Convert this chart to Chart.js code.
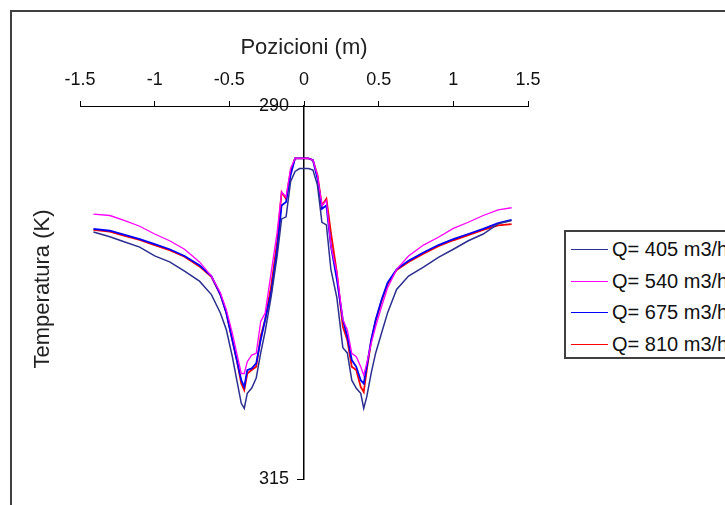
<!DOCTYPE html>
<html>
<head>
<meta charset="utf-8">
<script src="https://cdn.jsdelivr.net/npm/chart.js@4"></script>
<style>
  body { margin: 0; width: 725px; height: 505px; overflow: hidden; background: #fff; font-family: "Liberation Sans", Arial, sans-serif; }
  #frame { position: absolute; left: 10px; top: 10px; width: 800px; height: 600px; border: 2px solid #404040; }
  #wrap { position: absolute; left: 0; top: 0; width: 725px; height: 505px; }
  #legend { position: absolute; left: 564px; top: 230px; width: 220px; height: 125px; border: 2px solid #404040; background: #fff; }
  .item { position: absolute; left: 0; height: 24px; line-height: 24px; font-size: 20px; color: #111; white-space: nowrap; }
  .item span.swatch { position: absolute; left: 5px; top: 12px; width: 37px; height: 0; border-top: 1.5px solid; }
  .item span.lbl { position: absolute; left: 46px; top: 0; }
</style>
</head>
<body>
<div id="frame"></div>
<div id="wrap"><canvas id="chart" width="725" height="505"></canvas></div>
<div id="legend"></div>
<script>
// -------- DATA --------
const pozicioni = [-1.41, -1.3, -1.2, -1.1, -1.0, -0.9, -0.8, -0.7, -0.62, -0.56, -0.52, -0.48, -0.45,
    -0.42, -0.40, -0.38, -0.35, -0.32, -0.29, -0.26, -0.22, -0.18, -0.15, -0.12, -0.09, -0.06, -0.03,
    0, 0.03, 0.06, 0.09, 0.12, 0.15, 0.18, 0.22, 0.26, 0.29, 0.32, 0.35, 0.38, 0.40, 0.42, 0.45,
    0.48, 0.52, 0.56, 0.62, 0.7, 0.8, 0.9, 1.0, 1.1, 1.2, 1.3, 1.39];

const q405 = [298.45, 298.76, 299.12, 299.46, 300.05, 300.45, 301.06, 301.74, 302.64, 303.87, 305.0, 306.8, 308.38,
    309.93, 310.27, 309.26, 308.9, 308.24, 306.55, 305.1, 302.77, 300.07, 297.57, 297.43, 295.07, 294.39, 294.19,
    294.19, 294.19, 294.3, 295.3, 297.8, 297.97, 300.95, 302.84, 306.2, 306.55, 308.38, 308.92, 309.26, 310.27, 309.5, 307.9,
    306.55, 305.2, 303.85, 302.3, 301.4, 300.8, 300.14, 299.6, 299.03, 298.58, 297.9, 297.68];

const q540 = [297.25, 297.34, 297.68, 298.06, 298.58, 299.03, 299.6, 300.45, 301.4, 302.52, 303.65, 305.22, 306.58,
    307.93, 307.93, 307.14, 306.69, 306.58, 304.44, 303.87, 301.17, 298.47, 295.77, 296.1, 294.19, 293.51, 293.51,
    293.51, 293.51, 293.63, 294.64, 296.67, 296.33, 299.37, 301.17, 304.32, 305.0, 306.58, 306.8, 307.48, 308.04, 307.25, 305.9,
    304.78, 303.43, 302.18, 300.95, 300.05, 299.32, 298.8, 298.2, 297.79, 297.34, 296.96, 296.82];

const q675 = [298.24, 298.36, 298.63, 298.92, 299.26, 299.6, 300.05, 300.68, 301.4, 302.64, 303.87, 305.68, 307.03,
    308.38, 308.83, 307.7, 307.59, 307.25, 305.68, 304.32, 302.52, 299.6, 296.67, 296.44, 294.64, 293.51, 293.51,
    293.51, 293.51, 293.63, 294.86, 296.89, 296.67, 299.37, 301.62, 304.32, 305.45, 307.03, 307.48, 308.38, 308.6, 307.48, 305.68,
    304.32, 302.97, 301.84, 300.95, 300.38, 299.82, 299.32, 298.92, 298.58, 298.24, 297.85, 297.64];

const q810 = [298.3, 298.42, 298.7, 298.98, 299.32, 299.66, 300.1, 300.75, 301.45, 302.64, 303.87, 305.68, 307.03,
    308.6, 309.05, 307.93, 307.7, 307.48, 305.45, 304.32, 302.07, 299.14, 295.77, 296.22, 294.41, 293.51, 293.51,
    293.51, 293.51, 293.63, 294.64, 296.67, 296.22, 298.47, 301.17, 304.78, 305.68, 307.48, 307.7, 308.83, 309.17, 307.7, 305.75,
    304.4, 303.05, 301.92, 301.0, 300.45, 299.9, 299.4, 299.0, 298.65, 298.3, 298.0, 297.92];

const seriesLabels = ['Q= 405 m3/h', 'Q= 540 m3/h', 'Q= 675 m3/h', 'Q= 810 m3/h'];
const xTicks = [-1.5, -1, -0.5, 0, 0.5, 1, 1.5];
const yTicks = [290, 315];
// -------- END DATA --------

const colors = ['#2b2f8f', '#ff00ff', '#0000ff', '#ff0000'];
const widths = [1.5, 1.3, 1.8, 1.8];
const FONT = '"Liberation Sans", Arial, sans-serif';

function toPoints(values) {
    return values.map((t, i) => ({ x: pozicioni[i], y: t }));
}

const datasets = [q405, q540, q675, q810].map((vals, i) => ({
    label: seriesLabels[i],
    data: toPoints(vals),
    borderColor: colors[i],
    backgroundColor: colors[i],
    borderWidth: widths[i],
    showLine: true,
    pointRadius: 0,
    tension: 0,
    fill: false
}));

// y title far left + y tick labels left of the centered axis
const yLabelsPlugin = {
    id: 'yLabels',
    afterDraw(chart) {
        const ctx = chart.ctx;
        const xs = chart.scales.x, ys = chart.scales.y;
        const axisX = xs.getPixelForValue(0);

        ctx.save();
        ctx.font = '18px ' + FONT;
        ctx.fillStyle = '#111';
        ctx.textAlign = 'right';
        ctx.textBaseline = 'middle';
        yTicks.forEach(v => ctx.fillText(String(v), axisX - 15, ys.getPixelForValue(v)));
        ctx.restore();

        ctx.save();
        ctx.translate(43, 289);
        ctx.rotate(-Math.PI / 2);
        ctx.font = '22px ' + FONT;
        ctx.fillStyle = '#222';
        ctx.textAlign = 'center';
        ctx.textBaseline = 'middle';
        ctx.fillText('Temperatura (K)', 0, 0);
        ctx.restore();
    }
};

new Chart(document.getElementById('chart'), {
    type: 'scatter',
    data: { datasets: datasets },
    options: {
        responsive: false,
        animation: false,
        devicePixelRatio: 1,
        layout: { padding: { left: 80, right: 197, top: 6, bottom: 26 } },
        plugins: { legend: { display: false }, tooltip: { enabled: false } },
        scales: {
            x: {
                type: 'linear',
                position: 'top',
                min: -1.5,
                max: 1.5,
                afterBuildTicks: scale => { scale.ticks = xTicks.map(v => ({ value: v })); },
                afterFit: scale => { scale.height = 100; },
                grid: { drawOnChartArea: false, drawTicks: true, tickLength: 5, color: '#000' },
                border: { display: true, color: '#000', width: 1 },
                ticks: { padding: 10, color: '#111', font: { family: FONT, size: 18 }, callback: v => String(v) },
                title: { display: true, text: 'Pozicioni (m)', color: '#222', font: { family: FONT, size: 22 }, padding: { top: 29, bottom: 0 } }
            },
            y: {
                type: 'linear',
                position: { x: 0 },
                reverse: true,
                min: 290,
                max: 315,
                afterBuildTicks: scale => { scale.ticks = yTicks.map(v => ({ value: v })); },
                grid: { drawOnChartArea: false, drawTicks: true, tickLength: 6, color: '#000' },
                border: { display: true, color: '#000', width: 1.5 },
                ticks: { display: false }
            }
        }
    },
    plugins: [yLabelsPlugin]
});

// -------- LEGEND --------
const legendBox = document.getElementById('legend');
seriesLabels.forEach((label, i) => {
    const item = document.createElement('div');
    item.className = 'item';
    item.style.top = (5 + i * 31.7) + 'px';
    item.innerHTML = `<span class="swatch" style="border-color:${colors[i]}"></span><span class="lbl">${label}</span>`;
    legendBox.appendChild(item);
});
</script>
</body>
</html>
